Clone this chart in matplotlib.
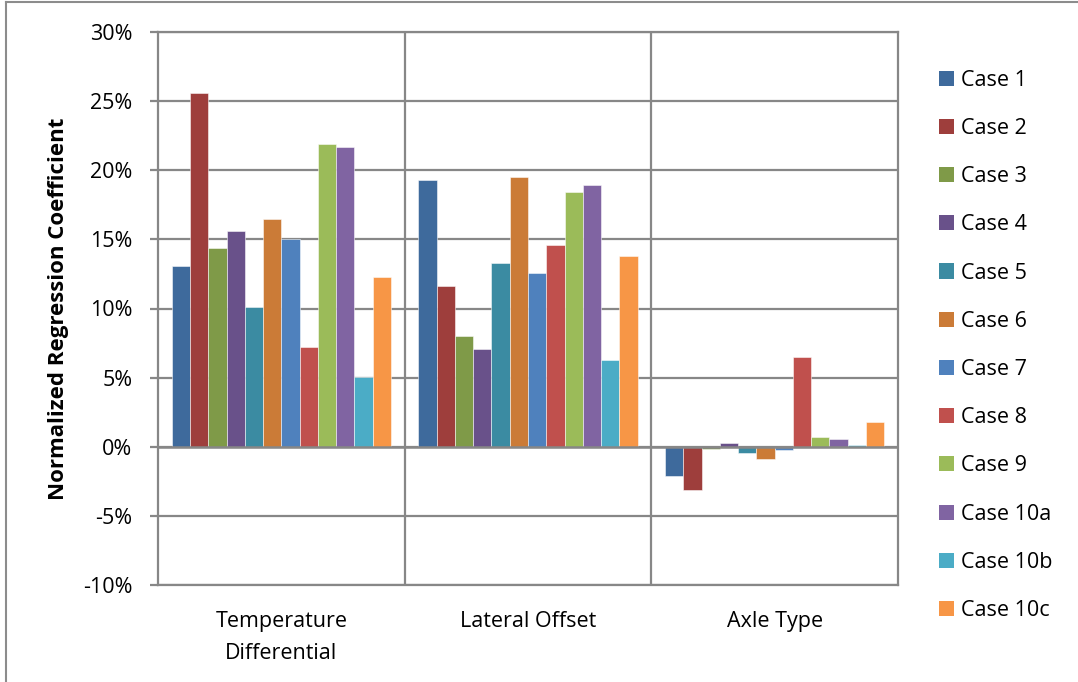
import matplotlib
matplotlib.use("Agg")
import matplotlib.pyplot as plt
import numpy as np
from matplotlib.lines import Line2D
from matplotlib.patches import Patch
from matplotlib.ticker import FuncFormatter, MultipleLocator

plt.rcParams['font.family'] = ['Open Sans', 'DejaVu Sans']

categories = ["Temperature\nDifferential", "Lateral Offset", "Axle Type"]
cases = ["Case 1", "Case 2", "Case 3", "Case 4", "Case 5", "Case 6",
         "Case 7", "Case 8", "Case 9", "Case 10a", "Case 10b", "Case 10c"]

# normalized regression coefficients (%) per case, one value per category
case_1 = [13.1, 19.3, -2.1]
case_2 = [25.6, 11.6, -3.1]
case_3 = [14.4, 8.0, -0.15]
case_4 = [15.6, 7.1, 0.3]
case_5 = [10.1, 13.3, -0.45]
case_6 = [16.5, 19.5, -0.85]
case_7 = [15.0, 12.6, -0.2]
case_8 = [7.2, 14.6, 6.5]
case_9 = [21.9, 18.4, 0.7]
case_10a = [21.7, 18.9, 0.55]
case_10b = [5.05, 6.3, 0.1]
case_10c = [12.3, 13.8, 1.8]

series = [case_1, case_2, case_3, case_4, case_5, case_6,
          case_7, case_8, case_9, case_10a, case_10b, case_10c]

colors = ["#3E6A9C", "#9E3E3C", "#7F9A48", "#69518A", "#3B8BA2", "#CB7B37",
          "#4F81BD", "#C0504D", "#9BBB59", "#8064A2", "#4BACC6", "#F79646"]

FS = 15.5

fig = plt.figure(figsize=(10.78, 6.82), dpi=100)
ax = fig.add_axes([158 / 1078, 1 - 585 / 682, 740 / 1078, 553 / 682])

n = len(series)
gap = 1.5
w = 1.0 / (n + gap)
x = np.arange(len(categories))
for i, (vals, col) in enumerate(zip(series, colors)):
    offs = -0.5 + (gap / 2) * w + (i + 0.5) * w
    ax.bar(x + offs, vals, width=w, color=col, edgecolor=(1, 1, 1, 0.6),
           linewidth=0.6, zorder=3, label=cases[i])

grid_col = "#878787"
ax.set_xlim(-0.5, len(categories) - 0.5)
ax.set_ylim(-10, 30)
ax.yaxis.set_major_locator(MultipleLocator(5))
ax.yaxis.set_major_formatter(FuncFormatter(lambda v, p: f"{v:.0f}%"))
ax.grid(axis="y", color=grid_col, linewidth=1.6, zorder=1)
for b in np.arange(0.5, len(categories) - 0.5, 1.0):
    ax.axvline(b, color=grid_col, linewidth=1.6, zorder=1)
ax.axhline(0, color=grid_col, linewidth=1.8, zorder=4)

for s in ax.spines.values():
    s.set_color(grid_col)
    s.set_linewidth(1.6)

ax.set_xticks(x)
ax.set_xticklabels(categories, fontsize=FS, linespacing=1.65)
ax.tick_params(axis="x", length=0, pad=19)
ax.tick_params(axis="y", length=6, width=1.6, color=grid_col, pad=12.5,
               labelsize=FS)

ax.set_ylabel("Normalized Regression Coefficient", fontsize=16,
              fontweight="bold", labelpad=10)

handles = [Patch(facecolor=c, edgecolor="none") for c in colors]
fig.legend(handles, cases, loc="upper left",
           bbox_to_anchor=(930 / 1078, 1 - 61 / 682), frameon=False,
           fontsize=FS, handlelength=0.7, handleheight=0.7,
           handletextpad=0.35, labelspacing=1.265, borderaxespad=0)

# thin frame around the chart area
fig.add_artist(Line2D([6 / 1078, 6 / 1078], [0, 1 - 2 / 682],
                      transform=fig.transFigure, color="#8C8C8C", lw=1.5))
fig.add_artist(Line2D([6 / 1078, 1], [1 - 2 / 682, 1 - 2 / 682],
                      transform=fig.transFigure, color="#8C8C8C", lw=1.5))

fig.savefig("out.png", dpi=100)
